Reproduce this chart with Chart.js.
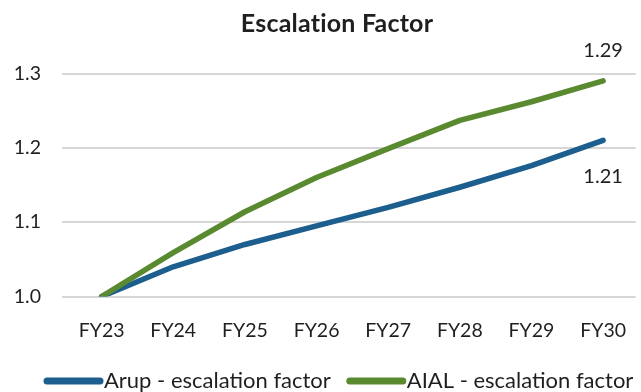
<!DOCTYPE html>
<html>
<head>
<meta charset="utf-8">
<script src="https://cdn.jsdelivr.net/npm/chart.js@4/dist/chart.umd.min.js"></script>
<style>
  html, body { margin: 0; padding: 0; background: #fff; }
  #wrap { width: 641px; height: 392px; position: relative; }
</style>
</head>
<body>
<div id="wrap"><canvas id="c" width="641" height="392"></canvas></div>
<script>
// Fiscal years along the horizontal axis
const categories = ['FY23', 'FY24', 'FY25', 'FY26', 'FY27', 'FY28', 'FY29', 'FY30'];

// Cumulative escalation factor per year
const arupValues = [1.00, 1.04, 1.07, 1.095, 1.12, 1.147, 1.176, 1.21];
const aialValues = [1.00, 1.059, 1.114, 1.16, 1.199, 1.237, 1.262, 1.29];

// Vertical axis ticks
const yTicks = [1.0, 1.1, 1.2, 1.3];

const seriesNames = ['Arup - escalation factor', 'AIAL - escalation factor'];
const chartTitle = 'Escalation Factor';

const FONT = 'Lato';
const TEXT = '#1f1f1f';
const BLUE = '#1c5e8e';
const GREEN = '#5a8a2f';

function toPoints(values) {
  return values.map((v, i) => ({ x: i, y: v }));
}

// Title, key and end-of-line value labels
const annotate = {
  id: 'annotate',
  afterDatasetsDraw(chart) {
    const ctx = chart.ctx;
    ctx.save();
    ctx.fillStyle = TEXT;
    ctx.textAlign = 'center';
    ctx.textBaseline = 'middle';
    ctx.font = '20px ' + FONT;
    chart.data.datasets.forEach((ds, i) => {
      const meta = chart.getDatasetMeta(i);
      const last = meta.data[meta.data.length - 1];
      const v = ds.data[ds.data.length - 1].y;
      const dy = ds.labelAbove ? -30 : 36;
      ctx.fillText(v.toFixed(2), last.x, last.y + dy);
    });
    ctx.restore();
  },
  afterDraw(chart) {
    const ctx = chart.ctx;
    ctx.save();
    ctx.fillStyle = TEXT;
    ctx.textBaseline = 'middle';
    ctx.textAlign = 'center';
    ctx.font = 'bold 25px ' + FONT;
    if ('letterSpacing' in ctx) ctx.letterSpacing = '0.2px';
    ctx.fillText(chartTitle, 337, 24);
    if ('letterSpacing' in ctx) ctx.letterSpacing = '0px';

    ctx.textAlign = 'left';
    ctx.font = '22px ' + FONT;
    const keyY = 381;
    let x = 44;
    chart.data.datasets.forEach((ds) => {
      const sw = 59;
      ctx.strokeStyle = ds.borderColor;
      ctx.lineWidth = 7;
      ctx.lineCap = 'round';
      ctx.beginPath();
      ctx.moveTo(x + 3, keyY);
      ctx.lineTo(x + sw - 3, keyY);
      ctx.stroke();
      ctx.fillText(ds.label, x + sw + 1, keyY);
      x += sw + 1 + ctx.measureText(ds.label).width + 16;
    });
    ctx.restore();
  }
};

new Chart(document.getElementById('c'), {
  type: 'line',
  data: {
    datasets: [
      {
        label: seriesNames[0],
        data: toPoints(arupValues),
        borderColor: BLUE,
        backgroundColor: BLUE,
        borderWidth: 5.5,
        borderCapStyle: 'round',
        borderJoinStyle: 'round',
        pointRadius: 0,
        tension: 0,
        order: 1,
        labelAbove: false
      },
      {
        label: seriesNames[1],
        data: toPoints(aialValues),
        borderColor: GREEN,
        backgroundColor: GREEN,
        borderWidth: 5.5,
        borderCapStyle: 'round',
        borderJoinStyle: 'round',
        pointRadius: 0,
        tension: 0,
        order: 0,
        labelAbove: true
      }
    ]
  },
  options: {
    responsive: false,
    animation: false,
    devicePixelRatio: 1,
    layout: { padding: { top: 73.5, bottom: 35.5, left: 0, right: 0 } },
    plugins: {
      legend: { display: false },
      title: { display: false },
      tooltip: { enabled: false }
    },
    scales: {
      x: {
        type: 'linear',
        min: -0.553,
        max: 7.456,
        grid: { display: false },
        border: { display: false },
        afterBuildTicks(scale) {
          scale.ticks = categories.map((_, i) => ({ value: i }));
        },
        afterFit(scale) { scale.height = 60; },
        ticks: {
          autoSkip: false,
          maxRotation: 0,
          padding: 15,
          color: TEXT,
          font: { family: FONT, size: 19.5 },
          callback: (v) => categories[v] ?? ''
        }
      },
      y: {
        min: yTicks[0],
        max: yTicks[yTicks.length - 1],
        afterBuildTicks(scale) {
          scale.ticks = yTicks.map((v) => ({ value: v }));
        },
        afterFit(scale) { scale.width = 62; },
        grid: { color: '#d6d6d6', lineWidth: 2, drawTicks: false },
        border: { display: false },
        ticks: {
          padding: 21,
          color: TEXT,
          font: { family: FONT, size: 19.5 },
          callback: (v) => Number(v).toFixed(1)
        }
      }
    }
  },
  plugins: [annotate]
});
</script>
</body>
</html>
